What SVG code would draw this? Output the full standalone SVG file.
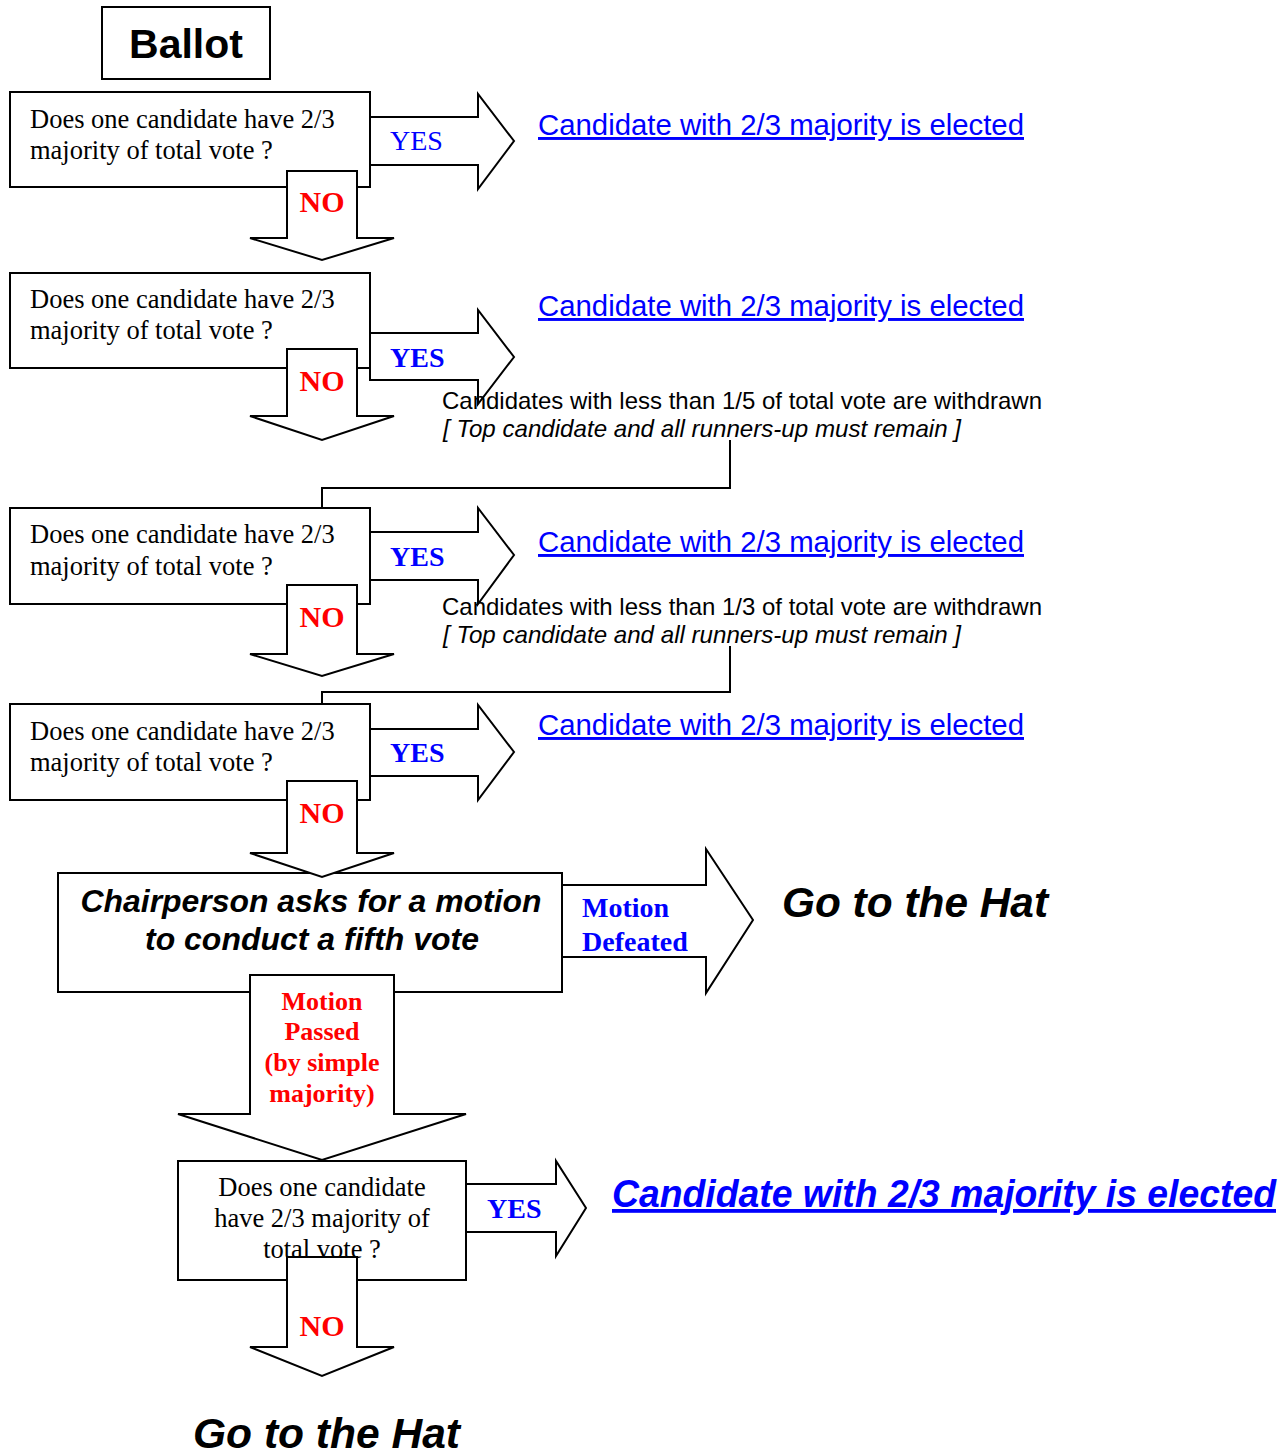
<svg xmlns="http://www.w3.org/2000/svg" width="1288" height="1456" viewBox="0 0 1288 1456">
<style>
.box{fill:#fff;stroke:#000;stroke-width:2}
.arr{fill:#fff;stroke:#000;stroke-width:2;stroke-linejoin:miter}
.ln{fill:none;stroke:#000;stroke-width:2}
.q{font-family:"Liberation Serif","Times New Roman",serif;font-size:26.5px;fill:#000}
.yes{font-family:"Liberation Serif","Times New Roman",serif;font-size:28px;fill:#0000ff}
.b{font-weight:bold}
.no{font-family:"Liberation Serif","Times New Roman",serif;font-size:30px;font-weight:bold;fill:#ff0000;text-anchor:middle}
.link{font-family:"Liberation Sans",Arial,sans-serif;font-size:29.3px;fill:#0000ff;text-decoration:underline}
.note{font-family:"Liberation Sans",Arial,sans-serif;font-size:24px;fill:#000}
.hat{font-family:"Liberation Sans",Arial,sans-serif;font-size:42px;font-weight:bold;font-style:italic;fill:#000}
</style>
<rect width="1288" height="1456" fill="#fff"/>
<g id="ballot">
<rect class="box" x="102" y="7" width="168" height="72"/>
<text x="186" y="58" text-anchor="middle" style="font-family:'Liberation Sans',Arial,sans-serif;font-size:41px;font-weight:bold">Ballot</text>
</g>
<g id="q1">
<rect class="box" x="10" y="92" width="360" height="95"/>
<text class="q" x="30" y="128">Does one candidate have 2/3</text>
<text class="q" x="30" y="159">majority of total vote ?</text>
</g>
<g id="q2">
<rect class="box" x="10" y="273" width="360" height="95"/>
<text class="q" x="30" y="308">Does one candidate have 2/3</text>
<text class="q" x="30" y="339">majority of total vote ?</text>
</g>
<g id="q3">
<rect class="box" x="10" y="508" width="360" height="96"/>
<text class="q" x="30" y="543">Does one candidate have 2/3</text>
<text class="q" x="30" y="575">majority of total vote ?</text>
</g>
<g id="q4">
<rect class="box" x="10" y="704" width="360" height="96"/>
<text class="q" x="30" y="740">Does one candidate have 2/3</text>
<text class="q" x="30" y="771">majority of total vote ?</text>
</g>
<g id="motion">
<rect class="box" x="58" y="873" width="504" height="119"/>
<text x="311" y="912" text-anchor="middle" textLength="461" lengthAdjust="spacingAndGlyphs" style="font-family:'Liberation Sans',Arial,sans-serif;font-size:31px;font-weight:bold;font-style:italic">Chairperson asks for a motion</text>
<text x="312" y="950" text-anchor="middle" textLength="334" lengthAdjust="spacingAndGlyphs" style="font-family:'Liberation Sans',Arial,sans-serif;font-size:31px;font-weight:bold;font-style:italic">to conduct a fifth vote</text>
</g>
<g id="q5">
<rect class="box" x="178" y="1161" width="288" height="119"/>
<text class="q" x="322" y="1196" text-anchor="middle">Does one candidate</text>
<text class="q" x="322" y="1227" text-anchor="middle">have 2/3 majority of</text>
<text class="q" x="322" y="1258" text-anchor="middle">total vote ?</text>
</g>
<g id="connectors">
<polygon class="arr" points="370,117 478,117 478,94 514,141 478,189 478,165 370,165"/>
<polygon class="arr" points="287,171 357,171 357,238 394,238 322,260 250,238 287,238"/>
<polygon class="arr" points="370,333 478,333 478,310 514,357 478,404 478,380 370,380"/>
<polygon class="arr" points="287,349 357,349 357,416 394,416 322,440 250,416 287,416"/>
<polyline class="ln" points="730,440 730,488 322,488 322,508"/>
<polygon class="arr" points="370,532 478,532 478,508 514,555 478,604 478,580 370,580"/>
<polygon class="arr" points="287,585 357,585 357,654 394,654 322,676 250,654 287,654"/>
<polyline class="ln" points="730,646 730,692 322,692 322,704"/>
<polygon class="arr" points="370,729 478,729 478,705 514,752 478,800 478,776 370,776"/>
<polygon class="arr" points="287,781 357,781 357,853 394,853 322,877 250,853 287,853"/>
<polygon class="arr" points="562,885 706,885 706,849 753,920 706,993 706,957 562,957"/>
<polygon class="arr" points="250,975 394,975 394,1114 466,1114 322,1160 178,1114 250,1114"/>
<polygon class="arr" points="466,1184 556,1184 556,1161 586,1208 556,1256 556,1232 466,1232"/>
<polygon class="arr" points="287,1257 357,1257 357,1347 394,1347 322,1376 250,1347 287,1347"/>
<text class="yes" x="390" y="150">YES</text>
<text class="no" x="322" y="212">NO</text>
<text class="yes b" x="390" y="367">YES</text>
<text class="no" x="322" y="391">NO</text>
<text class="yes b" x="390" y="566">YES</text>
<text class="no" x="322" y="627">NO</text>
<text class="yes b" x="390" y="762">YES</text>
<text class="no" x="322" y="823">NO</text>
<text class="yes b" x="582" y="917">Motion</text>
<text class="yes b" x="582" y="951">Defeated</text>
<g style="font-family:'Liberation Serif','Times New Roman',serif;font-size:26px;font-weight:bold;fill:#ff0000" text-anchor="middle">
<text x="322" y="1010">Motion</text>
<text x="322" y="1040">Passed</text>
<text x="322" y="1071">(by simple</text>
<text x="322" y="1102">majority)</text>
</g>
<text class="yes b" x="487" y="1218">YES</text>
<text class="no" x="322" y="1336">NO</text>
</g>
<g id="elected1"><text class="link" x="538" y="135" textLength="486" lengthAdjust="spacingAndGlyphs">Candidate with 2/3 majority is elected</text></g>
<g id="elected2"><text class="link" x="538" y="316" textLength="486" lengthAdjust="spacingAndGlyphs">Candidate with 2/3 majority is elected</text></g>
<g id="withdraw1">
<text class="note" x="442" y="409" textLength="600" lengthAdjust="spacingAndGlyphs">Candidates with less than 1/5 of total vote are withdrawn</text>
<text class="note" x="443" y="437" font-style="italic" textLength="518" lengthAdjust="spacingAndGlyphs">[ Top candidate and all runners-up must remain ]</text>
</g>
<g id="elected3"><text class="link" x="538" y="552" textLength="486" lengthAdjust="spacingAndGlyphs">Candidate with 2/3 majority is elected</text></g>
<g id="withdraw2">
<text class="note" x="442" y="615" textLength="600" lengthAdjust="spacingAndGlyphs">Candidates with less than 1/3 of total vote are withdrawn</text>
<text class="note" x="443" y="643" font-style="italic" textLength="518" lengthAdjust="spacingAndGlyphs">[ Top candidate and all runners-up must remain ]</text>
</g>
<g id="elected4"><text class="link" x="538" y="735" textLength="486" lengthAdjust="spacingAndGlyphs">Candidate with 2/3 majority is elected</text></g>
<g id="hat1"><text class="hat" x="782" y="917" textLength="266" lengthAdjust="spacingAndGlyphs">Go to the Hat</text></g>
<g id="elected5"><text x="612" y="1207" textLength="664" lengthAdjust="spacingAndGlyphs" style="font-family:'Liberation Sans',Arial,sans-serif;font-size:38px;font-weight:bold;font-style:italic;fill:#0000ff;text-decoration:underline">Candidate with 2/3 majority is elected</text></g>
<g id="hat2"><text class="hat" x="193" y="1448" textLength="267" lengthAdjust="spacingAndGlyphs">Go to the Hat</text></g>
</svg>
